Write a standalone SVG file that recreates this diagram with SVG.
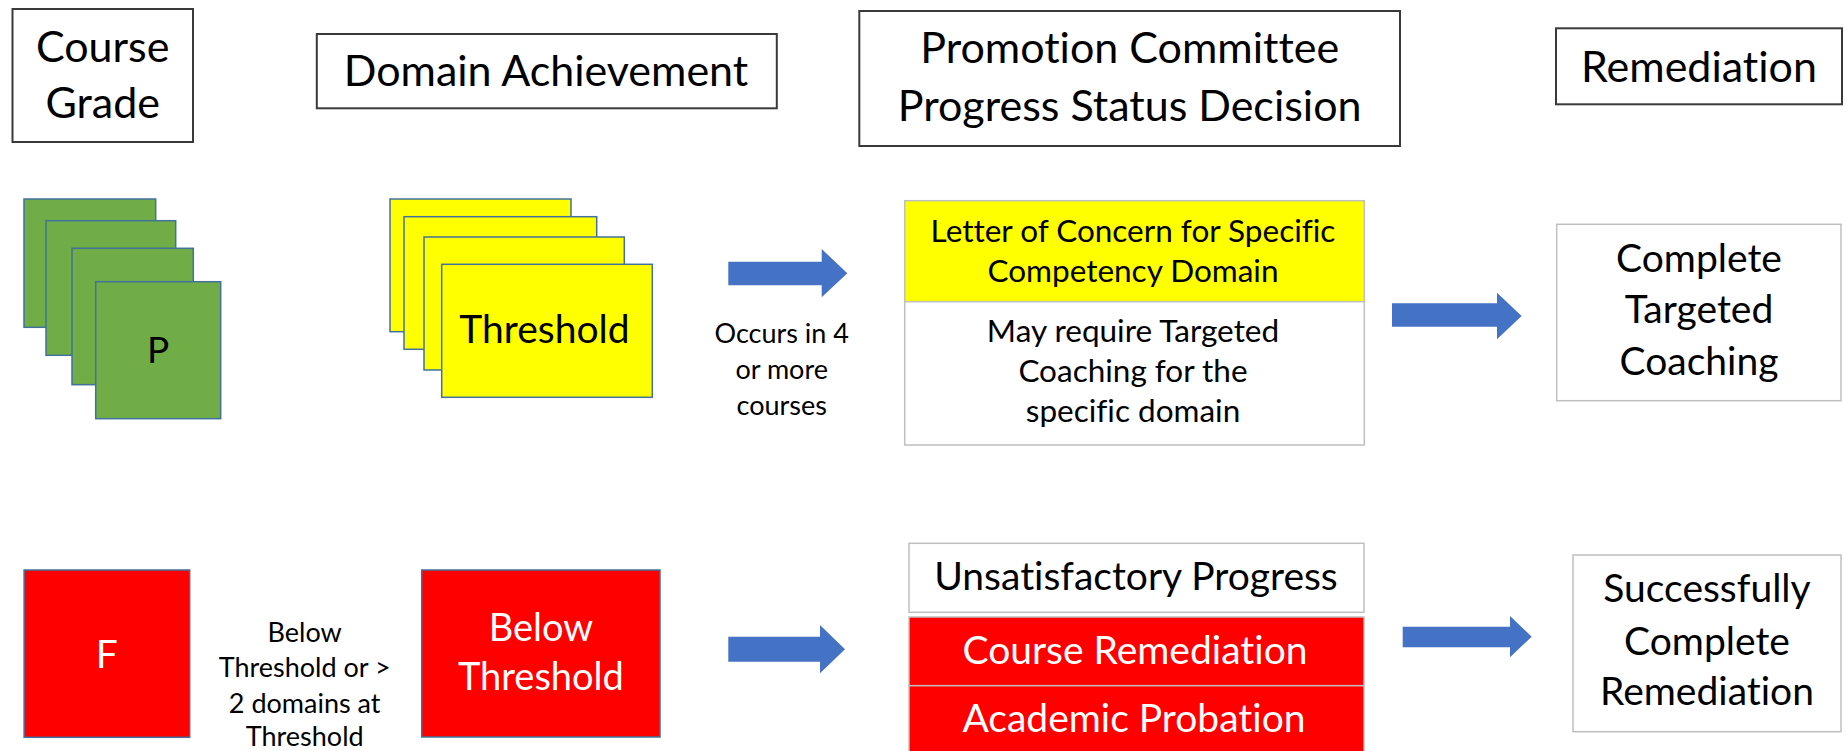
<svg xmlns="http://www.w3.org/2000/svg" width="1847" height="751" viewBox="0 0 1847 751">
<style>
text{font-family:Lato,"Liberation Sans",sans-serif;text-anchor:middle;fill:#000;font-variant-ligatures:none}
.hdr{fill:#fff;stroke:#3a3a3a;stroke-width:2}
.h{font-size:43px}
.grn{fill:#70AD47;stroke:#41719C;stroke-width:1.5}
.yel{fill:#FFFF00;stroke:#41719C;stroke-width:1.5}
.redb{fill:#FF0000;stroke:#41719C;stroke-width:1.5}
.gbox{fill:#fff;stroke:#bfbfbf;stroke-width:1.5}
.ybox{fill:#FFFF00;stroke:#bfbfbf;stroke-width:1.5}
.rbox{fill:#FF0000;stroke:#bfbfbf;stroke-width:1.5}
.arr{fill:#4472C4}
.w{fill:#fff}
.t39{font-size:39px}
.t31{font-size:31.5px}
.t27{font-size:27px}
</style>
<g id="hdr-course-grade">
<rect class="hdr" x="12.5" y="9" width="180.5" height="133"/>
<text class="h" x="102.7" y="61.7">Course</text>
<text class="h" x="102.7" y="118.3">Grade</text>
</g>
<g id="hdr-domain">
<rect class="hdr" x="316.8" y="34" width="460" height="74.3"/>
<text class="h" x="546" y="86">Domain Achievement</text>
</g>
<g id="hdr-promotion">
<rect class="hdr" x="859.3" y="11" width="540.7" height="135"/>
<text class="h" x="1129.7" y="63.3">Promotion Committee</text>
<text class="h" x="1129.7" y="120.7">Progress Status Decision</text>
</g>
<g id="hdr-remediation">
<rect class="hdr" x="1556" y="28.3" width="286" height="76"/>
<text class="h" x="1699" y="81.7">Remediation</text>
</g>
<g id="pass-grades">
<rect class="grn" x="24" y="199" width="131.7" height="128.3"/>
<rect class="grn" x="46" y="220.7" width="129.7" height="134.6"/>
<rect class="grn" x="72" y="248.3" width="121.3" height="136.4"/>
<rect class="grn" x="95.7" y="281.7" width="125" height="137"/>
<text x="158.2" y="363.3" style="font-size:37px">P</text>
</g>
<g id="threshold-domains">
<rect class="yel" x="390" y="199" width="181" height="132.7"/>
<rect class="yel" x="404" y="216.7" width="192.7" height="132.6"/>
<rect class="yel" x="424" y="237" width="200.3" height="133"/>
<rect class="yel" x="441.7" y="264.3" width="210.6" height="133"/>
<text class="t39" x="544.5" y="343.3">Threshold</text>
</g>
<g id="letter-of-concern">
<rect class="ybox" x="904.7" y="200.7" width="459.6" height="101"/>
<rect class="gbox" x="904.7" y="301.7" width="459.6" height="143.3"/>
<text class="t31" x="1133" y="241.7">Letter of Concern for Specific</text>
<text class="t31" x="1133" y="281.7">Competency Domain</text>
<text class="t31" x="1133" y="341.7">May require Targeted</text>
<text class="t31" x="1133" y="381.7">Coaching for the</text>
<text class="t31" x="1133" y="421.7">specific domain</text>
</g>
<g id="complete-coaching">
<rect class="gbox" x="1556.7" y="224.3" width="284.3" height="176.4"/>
<text class="t39" x="1699" y="271.7">Complete</text>
<text class="t39" x="1699" y="323.3">Targeted</text>
<text class="t39" x="1699" y="375">Coaching</text>
</g>
<g id="fail-grade">
<rect class="redb" x="24.1" y="570" width="165.6" height="167.3"/>
<text class="t39 w" x="106.9" y="668.3">F</text>
</g>
<g id="below-threshold">
<rect class="redb" x="421.7" y="570" width="238.3" height="167"/>
<text class="w" x="540.9" y="641" style="font-size:38px">Below</text>
<text class="w" x="540.9" y="690" style="font-size:38px">Threshold</text>
</g>
<g id="unsatisfactory">
<rect class="gbox" x="909" y="543.3" width="455" height="69"/>
<text class="t39" x="1136" y="590">Unsatisfactory Progress</text>
<rect class="rbox" x="909" y="617" width="455" height="68.7"/>
<text class="t39 w" x="1135" y="664">Course Remediation</text>
<rect class="rbox" x="909" y="685.7" width="455" height="70"/>
<text class="t39 w" x="1134" y="731.7">Academic Probation</text>
</g>
<g id="complete-remediation">
<rect class="gbox" x="1573" y="555" width="268" height="176.7"/>
<text class="t39" x="1707" y="601.7">Successfully</text>
<text class="t39" x="1707" y="655">Complete</text>
<text class="t39" x="1707" y="705">Remediation</text>
</g>
<g id="connectors">
<polygon class="arr" points="728.3,261.7 821.7,261.7 821.7,249 847.3,273.3 821.7,297.3 821.7,285.3 728.3,285.3"/>
<text class="t27" x="781.7" y="343.3">Occurs in 4</text>
<text class="t27" x="781.7" y="379">or more</text>
<text class="t27" x="781.7" y="415">courses</text>
<polygon class="arr" points="1392,303.3 1497,303.3 1497,292.7 1521.6,316 1497,339.3 1497,326.7 1392,326.7"/>
<text class="t27" x="304.7" y="641.7">Below</text>
<text class="t27" x="304.7" y="677">Threshold or &gt;</text>
<text class="t27" x="304.7" y="713">2 domains at</text>
<text class="t27" x="304.7" y="746">Threshold</text>
<polygon class="arr" points="728.3,636.7 820,636.7 820,625 845,649.2 820,673.3 820,661.7 728.3,661.7"/>
<polygon class="arr" points="1402.7,626.7 1510,626.7 1510,616 1531.7,636.7 1510,657.3 1510,647.3 1402.7,647.3"/>
</g>
</svg>
